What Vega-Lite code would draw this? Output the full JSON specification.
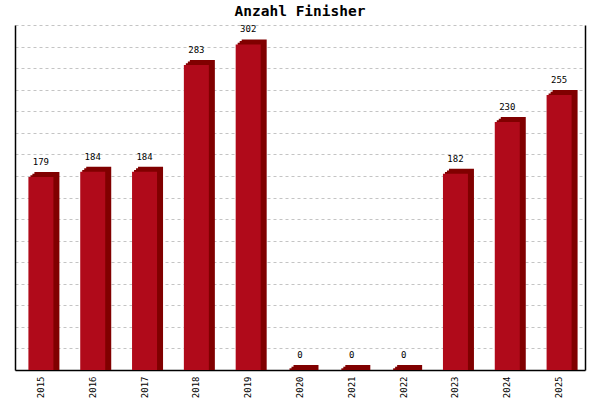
{
  "$schema": "https://vega.github.io/schema/vega-lite/v6.json",
  "width": 570,
  "height": 345,
  "autosize": "none",
  "padding": {"left": 15, "top": 25, "right": 15, "bottom": 30},
  "background": "white",
  "title": {"text": "Anzahl Finisher", "font": "DejaVu Sans Mono", "fontSize": 14.5, "fontWeight": "bold", "color": "black", "offset": 6, "anchor": "middle"},
  "config": {"view": {"stroke": null}},
  "data": {"values": [
    {"year": "2015", "n": 179},
    {"year": "2016", "n": 184},
    {"year": "2017", "n": 184},
    {"year": "2018", "n": 283},
    {"year": "2019", "n": 302},
    {"year": "2020", "n": 0},
    {"year": "2021", "n": 0},
    {"year": "2022", "n": 0},
    {"year": "2023", "n": 182},
    {"year": "2024", "n": 230},
    {"year": "2025", "n": 255}
  ]},
  "encoding": {
    "x": {"field": "year", "type": "ordinal", "scale": {"paddingInner": 0, "paddingOuter": 0},
      "axis": {"title": null, "labelAngle": -90, "labelAlign": "right", "labelBaseline": "middle", "labelFont": "DejaVu Sans Mono", "labelFontSize": 9, "labelColor": "black", "ticks": false, "labelPadding": 6, "domainColor": "black", "domainWidth": 1.5}}
  },
  "layer": [
    {
      "mark": {"type": "bar", "width": 25, "xOffset": 6, "yOffset": -5, "y2Offset": 0, "color": "#800000"},
      "encoding": {
        "y": {"field": "n", "type": "quantitative", "scale": {"domain": [0, 320], "nice": false},
          "axis": {"orient": "left", "title": null, "labels": false, "ticks": false, "domainColor": "black", "domainWidth": 1.5, "tickCount": 40, "values": [0,20,40,60,80,100,120,140,160,180,200,220,240,260,280,300,320], "grid": true, "gridColor": "#c4c4c4", "gridDash": [3, 3], "gridWidth": 1}},
        "y2": {"datum": 0}
      }
    },
    {
      "mark": {"type": "bar", "width": 25, "xOffset": 4, "yOffset": -3.3, "y2Offset": 0, "color": "#800000"},
      "encoding": {
        "y": {"field": "n", "type": "quantitative", "axis": null},
        "y2": {"datum": 0}
      }
    },
    {
      "mark": {"type": "bar", "width": 25, "xOffset": 2, "yOffset": -1.7, "y2Offset": 0, "color": "#800000"},
      "encoding": {
        "y": {"field": "n", "type": "quantitative", "axis": null},
        "y2": {"datum": 0}
      }
    },
    {
      "mark": {"type": "bar", "width": 25, "color": "#b00a1a"},
      "encoding": {
        "y": {"field": "n", "type": "quantitative", "axis": {"orient": "right", "title": null, "labels": false, "ticks": false, "grid": false, "domainColor": "black", "domainWidth": 1.5}},
        "y2": {"datum": 0}
      }
    },
    {
      "mark": {"type": "text", "baseline": "bottom", "dy": -10, "font": "DejaVu Sans Mono", "fontSize": 9, "color": "black"},
      "encoding": {
        "y": {"field": "n", "type": "quantitative", "axis": null},
        "text": {"field": "n", "type": "quantitative"}
      }
    }
  ],
  "resolve": {"axis": {"y": "independent"}}
}
